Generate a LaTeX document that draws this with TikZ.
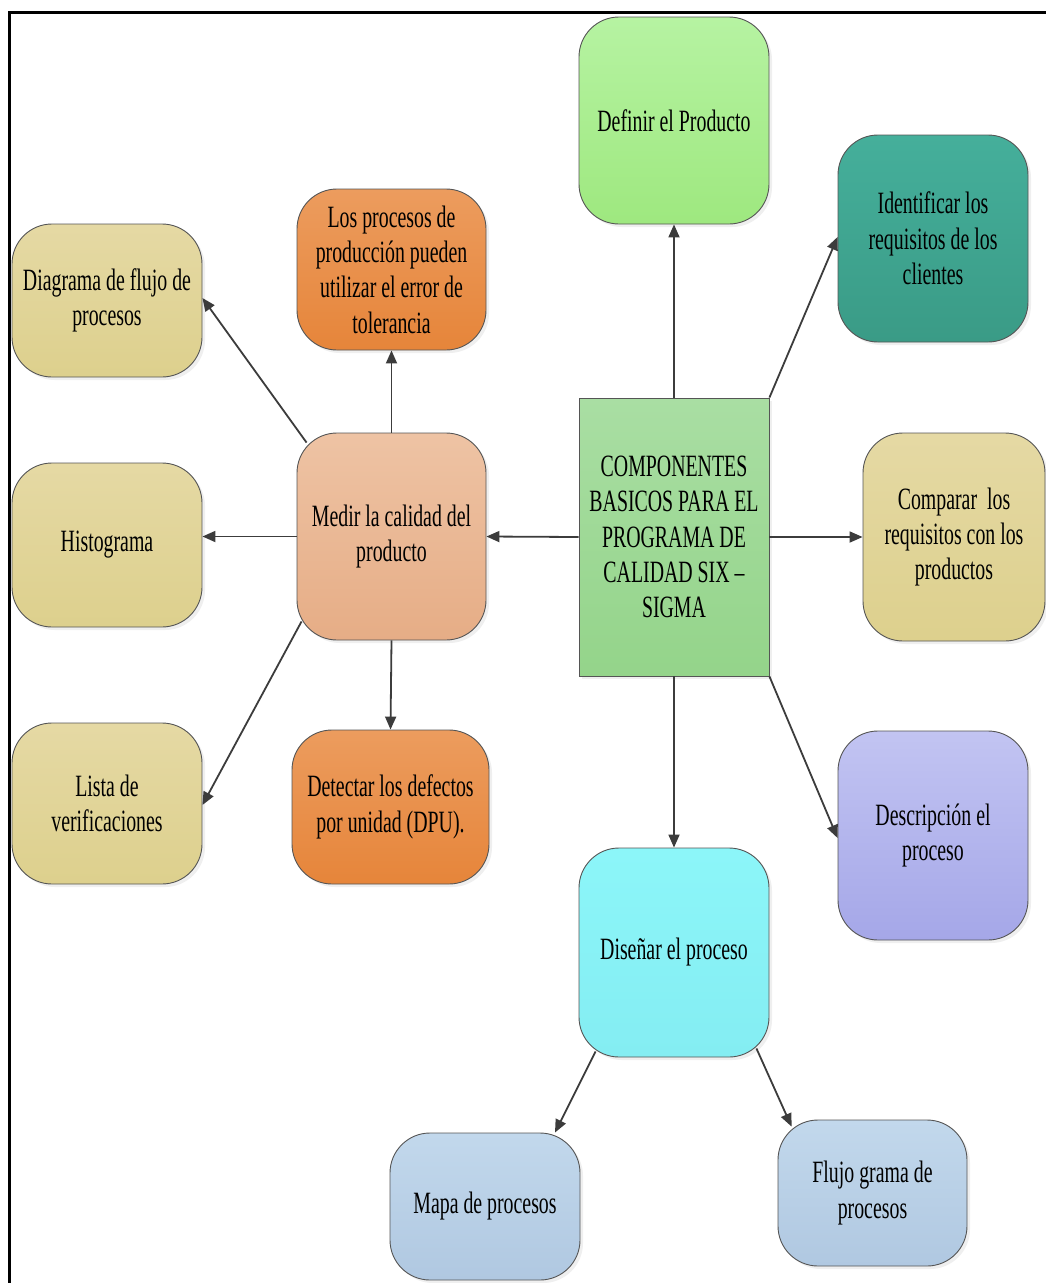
\documentclass[tikz,border=0pt]{standalone}
\usepackage{fontspec}
\setmainfont{Liberation Serif}[FakeStretch=0.64]
\usetikzlibrary{arrows.meta,shadows,shadings}

\definecolor{edge}{HTML}{555555}
\definecolor{arr}{HTML}{3C3C3C}
\definecolor{hubT}{HTML}{A9DEA3}\definecolor{hubB}{HTML}{94D48A}
\definecolor{limeT}{HTML}{B6F3A2}\definecolor{limeB}{HTML}{9EE87F}
\definecolor{tealT}{HTML}{45AF9B}\definecolor{tealB}{HTML}{3A9B86}
\definecolor{khakiT}{HTML}{E5D9A4}\definecolor{khakiB}{HTML}{DDD08D}
\definecolor{lilacT}{HTML}{C2C4F2}\definecolor{lilacB}{HTML}{A5A7E8}
\definecolor{cyanT}{HTML}{8CF6F9}\definecolor{cyanB}{HTML}{84EDF2}
\definecolor{skyT}{HTML}{C2D8EC}\definecolor{skyB}{HTML}{B0C8E1}
\definecolor{peachT}{HTML}{EEC3A4}\definecolor{peachB}{HTML}{E6AD86}
\definecolor{orangeT}{HTML}{EC9C5E}\definecolor{orangeB}{HTML}{E6853A}

\tikzset{
  box/.style={draw=edge, line width=0.9pt, rounded corners=40pt, inner sep=0pt,
    align=center, minimum width=190pt, minimum height=207pt,
    font=\fontsize{31}{35.3}\selectfont,
    drop shadow={shadow xshift=3pt, shadow yshift=-3pt, fill=black!12}},
  hub/.style={box, rounded corners=0pt},
  shadeit/.style 2 args={top color=#1, bottom color=#2},
  link/.style={draw=arr, line width=1.8pt, -{Triangle[length=13pt,width=11pt]}}
}

\begin{document}
\begin{tikzpicture}[x=1pt, y=-1pt]
\useasboundingbox (0,0) rectangle (1046,1283);
\begin{scope}
  \clip (0,0) rectangle (1046,1283);
  \fill[white] (0,0) rectangle (1046,1283);
  \draw[line width=3pt] (9.5,12) rectangle (1100,1340);
\end{scope}

% central block
\node[hub, shadeit={hubT}{hubB}, minimum height=278pt] (cen) at (674,537)
  {COMPONENTES\\BASICOS PARA EL\\PROGRAMA DE\\CALIDAD SIX --\\SIGMA};

% right-hand branch
\node[box, shadeit={limeT}{limeB}] (def) at (674,120.5) {Definir el Producto};
\node[box, shadeit={tealT}{tealB}] (ide) at (933,238.5) {Identificar los\\requisitos de los\\clientes};
\node[box, shadeit={khakiT}{khakiB}, minimum width=182pt, minimum height=208pt] (com) at (954,537) {Comparar\ \ los\\requisitos con los\\productos};
\node[box, shadeit={lilacT}{lilacB}, minimum height=209pt] (des) at (933,835.5) {Descripción el\\proceso};
\node[box, shadeit={cyanT}{cyanB}, minimum height=209pt] (dis) at (674,952.5) {Diseñar el proceso};
\node[box, shadeit={skyT}{skyB}, minimum height=147pt] (map) at (485,1206.5) {Mapa de procesos};
\node[box, shadeit={skyT}{skyB}, minimum width=189pt, minimum height=146pt] (flu) at (872.5,1193) {Flujo grama de\\procesos};

% left-hand branch
\node[box, shadeit={peachT}{peachB}, minimum width=189pt] (med) at (391.5,536.5) {Medir la calidad del\\producto};
\node[box, shadeit={orangeT}{orangeB}, minimum width=189pt, minimum height=161pt] (pro) at (391.5,269.5) {Los procesos de\\producción pueden\\utilizar el error de\\tolerancia};
\node[box, shadeit={orangeT}{orangeB}, minimum width=197pt, minimum height=154pt] (det) at (390.5,807) {Detectar los defectos\\por unidad (DPU).};
\node[box, shadeit={khakiT}{khakiB}, minimum height=153pt] (dia) at (107,300.5) {Diagrama de flujo de\\procesos};
\node[box, shadeit={khakiT}{khakiB}, minimum height=164pt] (his) at (107,545) {Histograma};
\node[box, shadeit={khakiT}{khakiB}, minimum height=161pt] (lis) at (107,803.5) {Lista de\\verificaciones};

% connectors from the central block
\draw[link] (cen.north) -- (def.south);
\draw[link] (cen.north east) -- ([yshift=1.5pt]ide.west);
\draw[link] (cen.east) -- (com.west);
\draw[link] (cen.south east) -- ([yshift=-2.5pt]des.west);
\draw[link] (cen.south) -- (dis.north);
\draw[link] (cen.west) -- (med.east);

% connectors from the measuring block
\draw[link] (med.north) -- (pro.south);
\draw[link] (med.south) -- (det.north);
\draw[link] (med.west) -- (med.west -| his.east);
\draw[link] ([shift={(10,10)}]med.north west) -- ([yshift=2.5pt]dia.east);
\draw[link] ([shift={(5,-19)}]med.south west) -- ([yshift=-1.5pt]lis.east);

% connectors from the design block
\draw[link] ([shift={(17,-6)}]dis.south west) -- ([xshift=70pt]map.north);
\draw[link] ([shift={(-13,-9)}]dis.south east) -- ([shift={(14,7)}]flu.north west);
\end{tikzpicture}
\end{document}
